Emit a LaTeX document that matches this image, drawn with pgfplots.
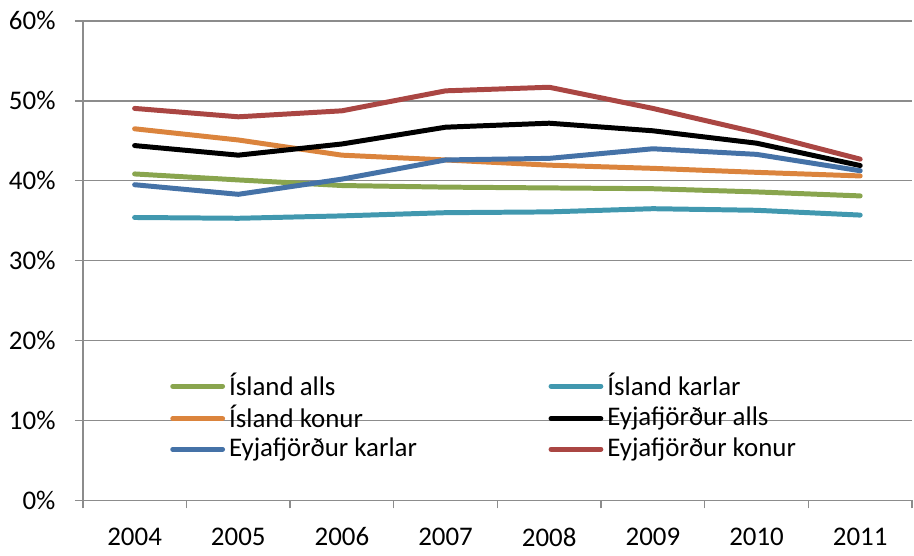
\documentclass[border=0pt]{standalone}
\usepackage{fontspec}
\setmainfont{Carlito}
\usepackage{pgfplots}
\pgfplotsset{compat=1.18}

\definecolor{cGreen}{HTML}{89A54E}
\definecolor{cTeal}{HTML}{4198AF}
\definecolor{cOrange}{HTML}{DB843D}
\definecolor{cBlue}{HTML}{4572A7}
\definecolor{cRed}{HTML}{AA4643}
\definecolor{cGrid}{HTML}{8C8C8C}

\begin{document}
\fontsize{13.5}{16}\selectfont
\begin{tikzpicture}
\begin{axis}[
    width=416pt, height=240.5pt,
    scale only axis,
    xmin=-0.5, xmax=7.5,
    ymin=0, ymax=60,
    axis x line*=bottom, axis y line*=left,
    axis line style={cGrid, line width=0.75pt},
    xtick={0,...,7},
    xticklabels={2004,2005,2006,2007,2008,2009,2010,2011},
    major x tick style={draw=none},
    minor xtick={-0.5,0.5,...,7.5},
    minor x tick style={cGrid, line width=0.75pt},
    minor tick length=4pt,
    ytick={0,10,...,60},
    yticklabel={\pgfmathprintnumber{\tick}\%},
    y tick style={cGrid, line width=0.75pt},
    major tick length=4pt,
    tick align=outside,
    ymajorgrids,
    grid style={cGrid, line width=0.75pt},
    /pgf/number format/assume math mode=true,
    ticklabel style={font=\fontsize{13.5}{16}\selectfont},
    yticklabel style={xshift=-5pt},
    xticklabel style={yshift=-5pt},
    every axis plot/.append style={line width=2.5pt, line cap=round, line join=round, mark=none},
    legend columns=2,
    legend cell align=left,
    legend style={at={(0.105,0.275)}, anchor=north west, draw=none, fill=none,
        inner sep=0pt, row sep=-1pt, font=\fontsize{13.5}{16}\selectfont,
        /tikz/column 2/.style={column sep=64pt}},
    legend image code/.code={\draw[#1, line width=2.5pt, line cap=round] (0pt,0pt) -- (25pt,0pt);},
]
\addplot[cGreen] coordinates {(0,40.85) (1,40.1) (2,39.4) (3,39.2) (4,39.1) (5,39.0) (6,38.6) (7,38.1)};
\addlegendentry{Ísland alls}
\addplot[cTeal] coordinates {(0,35.4) (1,35.3) (2,35.6) (3,36.0) (4,36.1) (5,36.5) (6,36.3) (7,35.7)};
\addlegendentry{Ísland karlar}
\addplot[cOrange] coordinates {(0,46.5) (1,45.1) (2,43.2) (3,42.6) (4,41.95) (5,41.55) (6,41.05) (7,40.6)};
\addlegendentry{Ísland konur}
\addplot[black] coordinates {(0,44.4) (1,43.2) (2,44.6) (3,46.7) (4,47.2) (5,46.25) (6,44.7) (7,41.9)};
\addlegendentry{Eyjafjörður alls}
\addplot[cBlue] coordinates {(0,39.5) (1,38.3) (2,40.2) (3,42.6) (4,42.8) (5,44.0) (6,43.3) (7,41.25)};
\addlegendentry{Eyjafjörður karlar}
\addplot[cRed] coordinates {(0,49.05) (1,48.0) (2,48.75) (3,51.25) (4,51.7) (5,49.05) (6,46.05) (7,42.7)};
\addlegendentry{Eyjafjörður konur}
\coordinate (fsw) at (rel axis cs:0,0);
\coordinate (fne) at (rel axis cs:1,1);
\end{axis}
\path ([xshift=-40pt,yshift=-22.5pt]fsw) rectangle ([xshift=1pt,yshift=10.5pt]fne);
\end{tikzpicture}
\end{document}
